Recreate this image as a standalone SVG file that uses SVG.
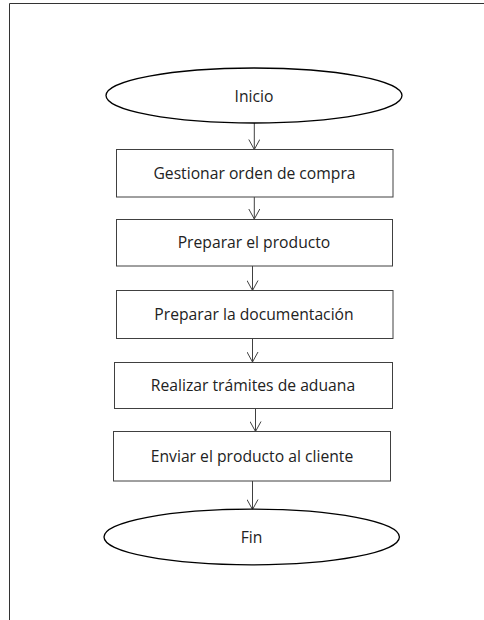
<svg xmlns="http://www.w3.org/2000/svg" width="484" height="620" viewBox="0 0 484 620">
<defs>
<style>
.shape{fill:#fff;stroke:#000;stroke-width:1.3}
.box{fill:#fff;stroke:#404040;stroke-width:1}
.lbl{font-family:"Open Sans","Liberation Sans",sans-serif;font-size:15.7px;fill:#222;text-anchor:middle}
.conn{stroke:#404040;stroke-width:1;fill:none}
</style>
<marker id="arr" markerWidth="12" markerHeight="12" refX="11" refY="6" orient="auto" markerUnits="userSpaceOnUse" viewBox="0 0 12 12">
<path d="M1,0.5 L11,6 L1,11.5" fill="none" stroke="#404040" stroke-width="1"/>
</marker>
</defs>
<rect width="484" height="620" fill="#fff"/>
<path d="M9.5,620 V3.5 H484" fill="none" stroke="#333" stroke-width="1"/>
<g id="connectors">
<line class="conn" x1="254.3" y1="123" x2="254.3" y2="149.5" marker-end="url(#arr)"/>
<line class="conn" x1="254.3" y1="197" x2="254.3" y2="219" marker-end="url(#arr)"/>
<line class="conn" x1="252.5" y1="266" x2="252.5" y2="290.5" marker-end="url(#arr)"/>
<line class="conn" x1="252.5" y1="338.5" x2="252.5" y2="362" marker-end="url(#arr)"/>
<line class="conn" x1="255.5" y1="408.5" x2="255.5" y2="431.5" marker-end="url(#arr)"/>
<line class="conn" x1="252.5" y1="481" x2="252.5" y2="509.5" marker-end="url(#arr)"/>
</g>
<g id="inicio">
<ellipse class="shape" cx="254" cy="95.5" rx="148" ry="27.5"/>
<text class="lbl" x="254" y="101.5">Inicio</text>
</g>
<g id="gestionar">
<rect class="box" x="116.5" y="149.5" width="276.5" height="47.5"/>
<text class="lbl" x="254.5" y="179">Gestionar orden de compra</text>
</g>
<g id="preparar-producto">
<rect class="box" x="116.5" y="219.5" width="276" height="46.5"/>
<text class="lbl" x="254" y="248">Preparar el producto</text>
</g>
<g id="preparar-doc">
<rect class="box" x="116.5" y="290.5" width="276.5" height="48"/>
<text class="lbl" x="254" y="320">Preparar la documentación</text>
</g>
<g id="aduana">
<rect class="box" x="114.5" y="362.5" width="278" height="46"/>
<text class="lbl" x="253" y="391">Realizar trámites de aduana</text>
</g>
<g id="enviar">
<rect class="box" x="113.5" y="431.5" width="277" height="49.5"/>
<text class="lbl" x="252" y="462">Enviar el producto al cliente</text>
</g>
<g id="fin">
<ellipse class="shape" cx="251.7" cy="537" rx="147.7" ry="27.8"/>
<text class="lbl" x="251.5" y="543">Fin</text>
</g>
</svg>
